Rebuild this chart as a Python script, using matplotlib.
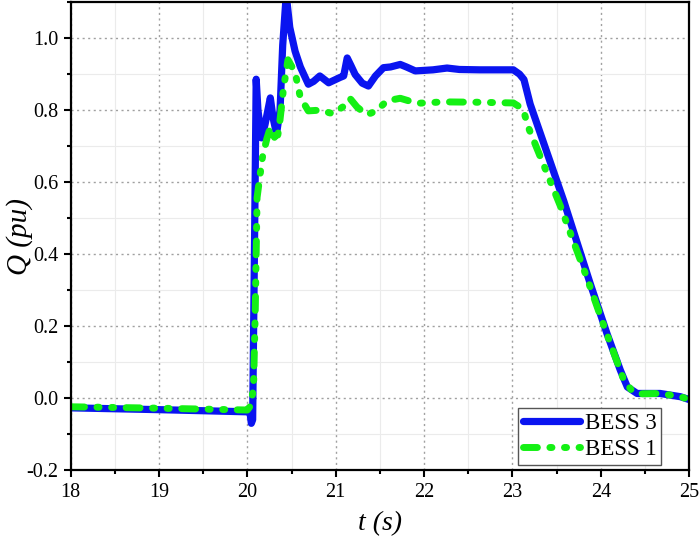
import matplotlib
matplotlib.use("Agg")
import matplotlib.pyplot as plt
from matplotlib.ticker import MultipleLocator, FormatStrFormatter

# BESS 3 (blue, solid)
t_bess3 = [18.0, 19.0, 20.0, 20.03, 20.045, 20.06, 20.08, 20.10, 20.12, 20.16,
           20.20, 20.26, 20.29, 20.33, 20.37, 20.40, 20.44, 20.48, 20.54, 20.60,
           20.69, 20.75, 20.82, 20.92, 21.05, 21.09, 21.13, 21.17, 21.22, 21.30,
           21.37, 21.45, 21.54, 21.62, 21.73, 21.80, 21.90, 22.10, 22.26, 22.40,
           22.63, 23.01, 23.08, 23.13, 23.20, 23.58, 23.88, 24.07, 24.22, 24.30,
           24.41, 24.67, 24.90, 25.0]
q_bess3 = [-0.027, -0.032, -0.038, -0.040, -0.070, -0.060, 0.40, 0.886, 0.80, 0.723,
           0.76, 0.834, 0.78, 0.734, 0.80, 0.98, 1.12, 1.03, 0.964, 0.92,
           0.872, 0.88, 0.895, 0.876, 0.891, 0.895, 0.945, 0.925, 0.899, 0.875,
           0.867, 0.895, 0.918, 0.92, 0.927, 0.92, 0.909, 0.912, 0.917, 0.913,
           0.912, 0.912, 0.90, 0.885, 0.817, 0.548, 0.318, 0.179, 0.078, 0.031,
           0.013, 0.013, 0.004, -0.004]

# BESS 1 (green, dash-dot-dot)
t_bess1 = [18.0, 19.0, 20.0, 20.04, 20.07, 20.09, 20.11, 20.17, 20.22, 20.26,
           20.33, 20.36, 20.41, 20.46, 20.54, 20.60, 20.69, 20.82, 20.97, 21.08,
           21.16, 21.24, 21.35, 21.46, 21.58, 21.73, 21.92, 22.22, 22.60, 23.01,
           23.12, 23.18, 23.54, 23.84, 24.04, 24.26, 24.36, 24.45, 24.67, 24.90,
           25.0]
q_bess1 = [-0.024, -0.028, -0.033, -0.020, 0.03, 0.25, 0.557, 0.668, 0.72, 0.752,
           0.711, 0.752, 0.862, 0.94, 0.905, 0.835, 0.798, 0.80, 0.79, 0.809,
           0.833, 0.809, 0.787, 0.798, 0.826, 0.833, 0.819, 0.823, 0.822, 0.82,
           0.803, 0.752, 0.535, 0.336, 0.197, 0.05, 0.018, 0.012, 0.013, 0.004,
           -0.004]

plt.rcParams['font.family'] = 'Liberation Serif'
plt.rcParams['axes.unicode_minus'] = False

fig = plt.figure(figsize=(6.99, 5.41), dpi=100)
ax = fig.add_axes([0.101, 0.131, 0.885, 0.865])

ax.plot(t_bess3, q_bess3, color='#0a14f0', lw=5.2, solid_capstyle='round',
        solid_joinstyle='round', label='BESS 3', zorder=3)
ax.plot(t_bess1, q_bess1, color='#14f014', lw=5,
        linestyle=(0, (2.0, 1.8, 0.3, 1.8, 0.3, 1.8)),
        dash_capstyle='round', dash_joinstyle='round', label='BESS 1', zorder=4)

ax.set_xlim(18, 25)
ax.set_ylim(-0.2, 1.1)
ax.xaxis.set_major_locator(MultipleLocator(1))
ax.xaxis.set_minor_locator(MultipleLocator(0.5))
ax.yaxis.set_major_locator(MultipleLocator(0.2))
ax.yaxis.set_minor_locator(MultipleLocator(0.1))
ax.yaxis.set_major_formatter(FormatStrFormatter('%.1f'))

ax.grid(which='minor', color='#ebebeb', lw=0.8, linestyle='-', zorder=0)
ax.grid(which='major', color='#a0a0a0', lw=1.0, linestyle=(0, (1.5, 2.5)), zorder=1)
ax.set_axisbelow(True)

for s in ax.spines.values():
    s.set_linewidth(1.6)
    s.set_zorder(6)
ax.tick_params(which='major', direction='out', length=5, width=1.5, labelsize=14.5,
               top=False, right=False, pad=4)
ax.tick_params(which='minor', direction='out', length=3, width=1.5,
               top=False, right=False)

ax.set_xlabel('t (s)', fontsize=20, fontstyle='italic', labelpad=7)
ax.set_ylabel('Q (pu)', fontsize=21, fontstyle='italic', labelpad=-5)

leg = ax.legend(loc='lower right', bbox_to_anchor=(0.955, 0.011), fontsize=16.5,
                frameon=True, fancybox=False, framealpha=1, edgecolor='#555555',
                handlelength=2.5, handletextpad=0.2, borderpad=0.22,
                labelspacing=0.2, borderaxespad=0)
leg.get_frame().set_linewidth(1.0)
leg.set_zorder(7)

fig.savefig('out.png', dpi=100)
